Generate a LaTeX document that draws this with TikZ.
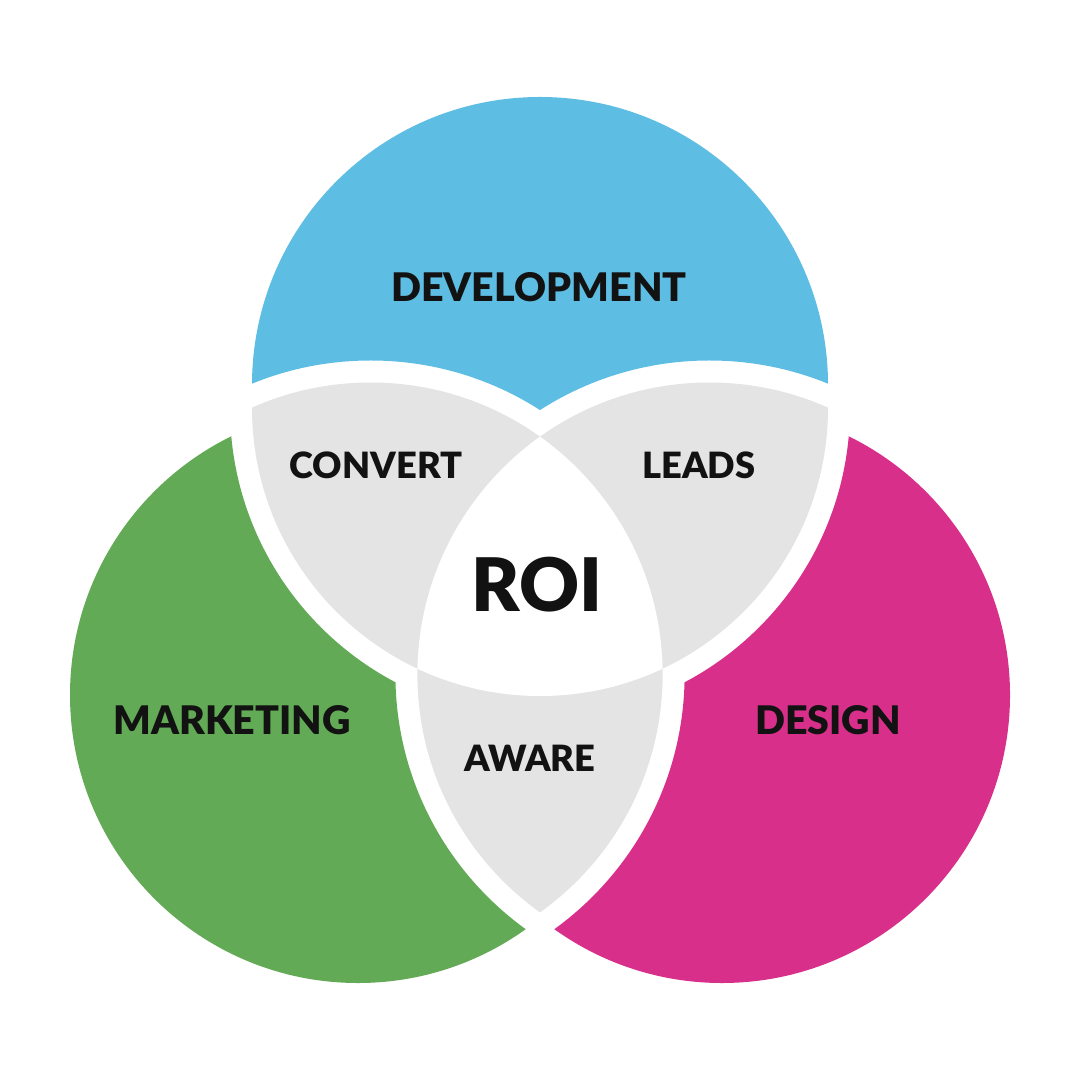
\documentclass[tikz,border=0pt]{standalone}
\usepackage{fontspec}
\setmainfont{Lato}[BoldFont={Lato Black}]
\definecolor{devblue}{HTML}{5DBDE3}
\definecolor{mktgreen}{HTML}{62AA55}
\definecolor{despink}{HTML}{D8308A}
\definecolor{lensgrey}{HTML}{E4E4E4}
% outer circles of the coloured parts
\def\devcirc{(540,385) circle [radius=288]}
\def\mktcirc{(358,695) circle [radius=288]}
\def\descirc{(722,695) circle [radius=288]}
% circles of the grey overlaps, and the same widened by the gap
\def\devlens{(540,408) circle [radius=288]}
\def\mktlens{(370.6,674.5) circle [radius=292]}
\def\deslens{(709.4,674.5) circle [radius=292]}
\def\devgap{(540,408) circle [radius=310]}
\def\mktgap{(370.6,674.5) circle [radius=314]}
\def\desgap{(709.4,674.5) circle [radius=314]}
\def\page{(0,0) rectangle (1080,1080)}
\tikzset{
  biglabel/.style={text=black!93, font=\bfseries\fontsize{11.2}{14}\selectfont},
  lenslabel/.style={text=black!93, font=\bfseries\fontsize{10.3}{13}\selectfont},
  roilabel/.style={text=black!93, font=\bfseries\fontsize{21}{25}\selectfont}
}
\begin{document}
\begin{tikzpicture}[x=0.01cm, y=-0.01cm]
    \useasboundingbox \page;
    % coloured parts, kept out of the gaps
    \begin{scope}[even odd rule]
        \clip \page \mktgap;
        \clip \page \desgap;
        \fill[devblue] \devcirc;
    \end{scope}
    \begin{scope}[even odd rule]
        \clip \page \devgap;
        \clip \page \desgap;
        \fill[mktgreen] \mktcirc;
    \end{scope}
    \begin{scope}[even odd rule]
        \clip \page \devgap;
        \clip \page \mktgap;
        \fill[despink] \descirc;
    \end{scope}
    % grey overlaps
    \begin{scope}
        \clip \devlens;
        \fill[lensgrey] \mktlens \deslens;
    \end{scope}
    \begin{scope}
        \clip \mktlens;
        \fill[lensgrey] \deslens;
    \end{scope}
    % centre stays white
    \begin{scope}
        \clip \devlens;
        \clip \mktlens;
        \fill[white] \deslens;
    \end{scope}
    \node[biglabel] (dev) at (539,287) {DEVELOPMENT};
    \node[biglabel] (mkt) at (232,720) {MARKETING};
    \node[biglabel] (des) at (828,720) {DESIGN};
    \node[lenslabel] (convert) at (376,465) {CONVERT};
    \node[lenslabel] (leads) at (699,465) {LEADS};
    \node[lenslabel] (aware) at (530,758) {AWARE};
    \node[roilabel] (roi) at (537,585) {ROI};
\end{tikzpicture}
\end{document}
